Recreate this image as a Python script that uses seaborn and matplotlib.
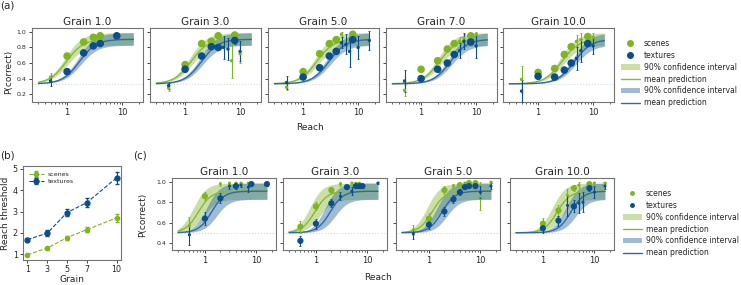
import numpy as np
import pandas as pd
import matplotlib
matplotlib.use("Agg")
import matplotlib.pyplot as plt
from matplotlib.lines import Line2D
from matplotlib.patches import Patch
from matplotlib.ticker import NullFormatter
import seaborn as sns

sns.set_theme(style="ticks")
plt.rcParams['font.family'] = ['DejaVu Sans']

GREEN = '#80b423'
BLUE = '#0c4d8b'
GREEN_LINE = '#8ab83a'
BLUE_LINE = '#2f6aa5'
BAND_ALPHA = 0.45

# ---- panel (b): reach thresholds per grain (also used for the (a) model curves)
b_grains = [1, 3, 5, 7, 10]
b_scenes_thr = [0.97, 1.28, 1.77, 2.15, 2.70]
b_scenes_err = [0.05, 0.07, 0.09, 0.13, 0.18]
b_textures_thr = [1.68, 1.98, 2.95, 3.42, 4.58]
b_textures_err = [0.09, 0.14, 0.18, 0.22, 0.30]

# ---- panel (a): observed P(correct), chance = 1/3
a_grains = [1.0, 3.0, 5.0, 7.0, 10.0]
a_scenes_x = [[0.5, 1, 2, 3, 4],
              [0.5, 1, 2, 3, 4, 7, 8, 10],
              [0.5, 1, 2, 3, 4, 5, 8],
              [0.5, 1, 2, 3, 4, 5, 6, 8, 10],
              [0.5, 1, 2, 3, 4, 5, 6, 8, 10]]
a_scenes_p = [[0.42, 0.69, 0.87, 0.93, 0.95],
              [0.28, 0.58, 0.85, 0.88, 0.95, 0.63, 0.96, 0.72],
              [0.29, 0.49, 0.72, 0.85, 0.90, 0.97, 0.97],
              [0.25, 0.52, 0.63, 0.78, 0.85, 0.88, 0.92, 0.95, 0.97],
              [0.39, 0.48, 0.53, 0.71, 0.81, 0.88, 0.90, 0.94, 0.93]]
a_scenes_err = [[0.05, 0.03, 0.02, 0.02, 0.01],
                [0.04, 0.03, 0.02, 0.02, 0.02, 0.22, 0.02, 0.12],
                [0.04, 0.03, 0.03, 0.02, 0.02, 0.03, 0.02],
                [0.07, 0.03, 0.03, 0.03, 0.02, 0.05, 0.05, 0.02, 0.03],
                [0.17, 0.03, 0.03, 0.03, 0.02, 0.08, 0.08, 0.02, 0.05]]
a_scenes_big = [[0, 1, 1, 1, 1],
                [0, 1, 1, 1, 1, 0, 1, 0],
                [0, 1, 1, 1, 1, 0, 1],
                [0, 1, 1, 1, 1, 0, 0, 1, 0],
                [0, 1, 1, 1, 1, 0, 0, 1, 0]]
a_textures_x = [[0.5, 1, 2, 3, 4, 8],
                [0.5, 1, 2, 3, 4, 5, 6, 8, 10],
                [0.5, 1, 2, 3, 4, 5, 6, 7, 8, 10, 16],
                [0.5, 1, 2, 3, 4, 5, 6, 8, 10],
                [0.5, 1, 2, 3, 4, 5, 6, 8, 10]]
a_textures_p = [[0.37, 0.49, 0.73, 0.82, 0.85, 0.95],
                [0.31, 0.52, 0.69, 0.81, 0.80, 0.80, 0.78, 0.89, 0.75],
                [0.35, 0.42, 0.54, 0.69, 0.75, 0.86, 0.84, 0.75, 0.90, 0.80, 0.89],
                [0.37, 0.40, 0.52, 0.60, 0.71, 0.76, 0.88, 0.87, 0.82],
                [0.24, 0.43, 0.42, 0.51, 0.60, 0.66, 0.76, 0.85, 0.82]]
a_textures_err = [[0.06, 0.03, 0.03, 0.03, 0.03, 0.02],
                  [0.04, 0.03, 0.03, 0.03, 0.03, 0.15, 0.14, 0.04, 0.13],
                  [0.08, 0.03, 0.03, 0.03, 0.03, 0.07, 0.13, 0.20, 0.03, 0.15, 0.12],
                  [0.14, 0.03, 0.03, 0.03, 0.03, 0.10, 0.10, 0.03, 0.15],
                  [0.14, 0.03, 0.03, 0.03, 0.03, 0.15, 0.15, 0.03, 0.10]]
a_textures_big = [[0, 1, 1, 1, 1, 1],
                  [0, 1, 1, 1, 1, 0, 0, 1, 0],
                  [0, 1, 1, 1, 1, 0, 0, 0, 1, 0, 0],
                  [0, 1, 1, 1, 1, 0, 0, 1, 0],
                  [0, 1, 1, 1, 1, 0, 0, 1, 0]]

# ---- panel (c): observed P(correct), chance = 1/2
c_grains = [1.0, 3.0, 5.0, 10.0]
c_scenes_thr = [0.75, 0.95, 1.15, 1.9]
c_textures_thr = [1.35, 1.9, 1.8, 3.5]
c_scenes_x = [[0.5, 1, 2, 3, 4, 5, 7, 8, 16],
              [0.5, 1, 2, 3, 5, 6, 7],
              [0.5, 1, 2, 3, 4, 5, 6, 8, 10, 16],
              [1, 2, 3, 4, 5, 8, 10, 16]]
c_scenes_p = [[0.57, 0.86, 0.98, 0.99, 0.99, 0.99, 0.99, 0.99, 0.99],
              [0.56, 0.76, 0.92, 0.98, 0.99, 0.99, 0.99],
              [0.53, 0.64, 0.92, 0.96, 0.97, 0.99, 0.99, 0.99, 0.86, 1.0],
              [0.59, 0.72, 0.87, 0.94, 0.97, 0.98, 0.99, 0.99]]
c_scenes_err = [[0.09, 0.04, 0.02, 0.01, 0.01, 0.01, 0.01, 0.01, 0.01],
                [0.06, 0.04, 0.03, 0.02, 0.01, 0.01, 0.01],
                [0.05, 0.05, 0.04, 0.02, 0.02, 0.01, 0.01, 0.01, 0.14, 0.01],
                [0.06, 0.05, 0.06, 0.03, 0.03, 0.02, 0.01, 0.01]]
c_scenes_big = [[0, 1, 0, 0, 0, 0, 0, 0, 0],
                [1, 1, 1, 0, 0, 0, 0],
                [0, 1, 1, 0, 1, 0, 1, 1, 0, 0],
                [1, 1, 0, 1, 0, 1, 0, 0]]
c_textures_x = [[0.5, 1, 2, 3, 4, 5, 7, 8, 16],
                [0.5, 1, 2, 3, 4, 5, 6, 7, 8, 16],
                [0.5, 1, 2, 3, 4, 5, 6, 8, 10, 16],
                [1, 2, 3, 4, 5, 6, 8, 10, 16]]
c_textures_p = [[0.48, 0.64, 0.84, 0.96, 0.96, 0.97, 0.95, 0.98, 0.98],
                [0.42, 0.59, 0.79, 0.86, 0.95, 0.91, 0.96, 0.96, 0.96, 0.99],
                [0.49, 0.58, 0.71, 0.83, 0.90, 0.95, 0.96, 0.96, 0.90, 0.96],
                [0.545, 0.62, 0.77, 0.76, 0.79, 0.80, 0.94, 0.90, 0.96]]
c_textures_err = [[0.10, 0.06, 0.05, 0.03, 0.03, 0.02, 0.05, 0.02, 0.02],
                  [0.05, 0.05, 0.04, 0.04, 0.02, 0.04, 0.02, 0.02, 0.02, 0.01],
                  [0.05, 0.04, 0.04, 0.04, 0.03, 0.02, 0.02, 0.02, 0.06, 0.03],
                  [0.05, 0.05, 0.10, 0.06, 0.10, 0.10, 0.03, 0.06, 0.03]]
c_textures_big = [[0, 1, 1, 0, 1, 0, 0, 1, 1],
                  [1, 1, 1, 0, 1, 0, 1, 1, 1, 0],
                  [0, 1, 1, 1, 1, 1, 1, 1, 0, 0],
                  [1, 1, 0, 1, 0, 0, 1, 0, 0]]

# model fit settings (psychometric function in log reach)
a_model = dict(guess=1 / 3, top=0.905, top_lo=0.83, top_hi=0.99, slope=6.5, spread=1.06)
c_model = dict(guess=0.5, top=0.91, top_lo=0.83, top_hi=0.99, slope=8.0, spread=1.25)

W, H = 741, 285
fig = plt.figure(figsize=(W / 100, H / 100), dpi=100)


def px_axes(left, top, width, height):
    return fig.add_axes([left / W, 1 - (top + height) / H, width / W, height / H])


def psych(x, thr, slope, guess, top):
    return guess + (top - guess) / (1 + np.exp(-slope * np.log10(x / thr)))


def draw_series(ax, x, p, err, big, thr, model, color, line_color, ms):
    grid = np.geomspace(0.3, 16, 200)
    mean = psych(grid, thr, model['slope'], model['guess'], model['top'])
    hi = psych(grid, thr / model['spread'], model['slope'], model['guess'], model['top_hi'])
    lo = psych(grid, thr * model['spread'], model['slope'], model['guess'], model['top_lo'])
    ax.fill_between(grid, lo, hi, color=line_color, alpha=BAND_ALPHA, lw=0, zorder=1)
    sns.lineplot(x=grid, y=mean, color=line_color, lw=1, ax=ax, zorder=2)
    ax.errorbar(x, p, yerr=err, fmt='none', ecolor=color, elinewidth=0.8,
                capsize=1, capthick=0.6, zorder=3)
    df = pd.DataFrame({'reach': x, 'p': p,
                       'kind': ['big' if b else 'small' for b in big]})
    sns.scatterplot(data=df, x='reach', y='p', size='kind',
                    sizes={'big': ms[1], 'small': ms[0]}, color=color,
                    linewidth=0, legend=False, ax=ax, zorder=4)


def style_axes(ax, ylim, yticks, show_y):
    ax.set_xscale('log')
    ax.set_xlim(0.23, 24)
    ax.set_ylim(*ylim)
    ax.set_xticks([1, 10])
    ax.set_xticklabels(['1', '10'])
    ax.xaxis.set_minor_formatter(NullFormatter())
    ax.set_yticks(yticks)
    if show_y:
        ax.set_yticklabels([f'{v:.1f}' for v in yticks])
    else:
        ax.set_yticklabels([])
    ax.tick_params(axis='x', labelsize=6, length=2.5, width=0.6, pad=1.5)
    ax.tick_params(axis='x', which='minor', length=1.5, width=0.5)
    ax.tick_params(axis='y', labelsize=4.5, length=2.5, width=0.6, pad=1.5)
    ax.set_xlabel('')
    ax.set_ylabel('')
    for s in ax.spines.values():
        s.set_color('0.45')
        s.set_linewidth(0.8)


# ---- panel (a)
a_lefts = [32, 150, 268, 386, 503]
for i, g in enumerate(a_grains):
    ax = px_axes(a_lefts[i], 28, 111, 74)
    ax.axhline(1 / 3, color='0.85', lw=0.8, ls=':', zorder=0)
    draw_series(ax, a_scenes_x[i], a_scenes_p[i], a_scenes_err[i], a_scenes_big[i],
                b_scenes_thr[i], a_model, GREEN, GREEN_LINE, (6, 30))
    draw_series(ax, a_textures_x[i], a_textures_p[i], a_textures_err[i], a_textures_big[i],
                b_textures_thr[i], a_model, BLUE, BLUE_LINE, (6, 30))
    style_axes(ax, (0.1, 1.05), [0.2, 0.4, 0.6, 0.8, 1.0], i == 0)
    ax.set_title(f'Grain {g:.1f}', fontsize=7.5, pad=2)

# ---- panel (c)
c_lefts = [172, 283, 396, 510]
for i, g in enumerate(c_grains):
    ax = px_axes(c_lefts[i], 178, 104, 72)
    ax.axhline(0.5, color='0.85', lw=0.8, ls=':', zorder=0)
    draw_series(ax, c_scenes_x[i], c_scenes_p[i], c_scenes_err[i], c_scenes_big[i],
                c_scenes_thr[i], c_model, GREEN, GREEN_LINE, (5, 20))
    draw_series(ax, c_textures_x[i], c_textures_p[i], c_textures_err[i], c_textures_big[i],
                c_textures_thr[i], c_model, BLUE, BLUE_LINE, (5, 20))
    style_axes(ax, (0.33, 1.04), [0.4, 0.6, 0.8, 1.0], i == 0)
    ax.set_title(f'Grain {g:.1f}', fontsize=7.5, pad=2)

# ---- panel (b)
axb = px_axes(23, 166, 98, 94)
axb.errorbar(b_grains, b_scenes_thr, yerr=b_scenes_err, fmt='o--', color=GREEN,
             ms=3, lw=0.8, elinewidth=0.8, capsize=1.5, label='scenes')
axb.errorbar(b_grains, b_textures_thr, yerr=b_textures_err, fmt='o--', color=BLUE,
             ms=3.5, lw=0.8, elinewidth=0.8, capsize=1.5, label='textures')
axb.set_xticks(b_grains)
axb.set_yticks([1, 2, 3, 4, 5])
axb.set_xlim(0.55, 10.45)
axb.set_ylim(0.72, 5.14)
axb.tick_params(labelsize=5.8, length=2.5, width=0.6, pad=1.2)
axb.set_ylabel('Reach threshold', fontsize=6.5, labelpad=2)
for s in axb.spines.values():
    s.set_color('0.45')
    s.set_linewidth(0.8)
axb.legend(loc='upper left', fontsize=4.5, frameon=False, handlelength=2.5,
           borderpad=0.4, labelspacing=0.3, handletextpad=0.6)

# ---- shared labels
fig.text(72 / W, 1 - 279 / H, 'Grain', fontsize=6.6, ha='center', va='center')
fig.text(310 / W, 1 - 127 / H, 'Reach', fontsize=6.5, ha='center', va='center')
fig.text(378 / W, 1 - 277 / H, 'Reach', fontsize=6.5, ha='center', va='center')
fig.text(9 / W, 1 - 72 / H, 'P(correct)', fontsize=6.5, rotation=90, ha='center', va='center')
fig.text(143 / W, 1 - 215 / H, 'P(correct)', fontsize=6.5, rotation=90, ha='center', va='center')
fig.text(0, 1 - 6 / H, '(a)', fontsize=7.5, va='center')
fig.text(0, 1 - 155 / H, '(b)', fontsize=7.5, va='center')
fig.text(133 / W, 1 - 155 / H, '(c)', fontsize=7.5, va='center')


def legend_handles(ms):
    return [Line2D([], [], ls='none', marker='o', color=GREEN, ms=ms),
            Line2D([], [], ls='none', marker='o', color=BLUE, ms=ms),
            Patch(facecolor=GREEN_LINE, alpha=BAND_ALPHA, lw=0),
            Line2D([], [], color=GREEN_LINE, lw=1),
            Patch(facecolor=BLUE_LINE, alpha=BAND_ALPHA, lw=0),
            Line2D([], [], color=BLUE_LINE, lw=1)]


leg_labels = ['scenes', 'textures', '90% confidence interval', 'mean prediction',
              '90% confidence interval', 'mean prediction']
fig.legend(legend_handles(4), leg_labels, loc='upper left',
           bbox_to_anchor=(617 / W, 1 - 35 / H), fontsize=5.5, frameon=False,
           borderpad=0, labelspacing=0.38, handlelength=2.5, handletextpad=0.5)
fig.legend(legend_handles(2.5), leg_labels, loc='upper left',
           bbox_to_anchor=(619 / W, 1 - 185 / H), fontsize=5.5, frameon=False,
           borderpad=0, labelspacing=0.38, handlelength=2.5, handletextpad=0.5)

fig.savefig('out.png', dpi=100)
